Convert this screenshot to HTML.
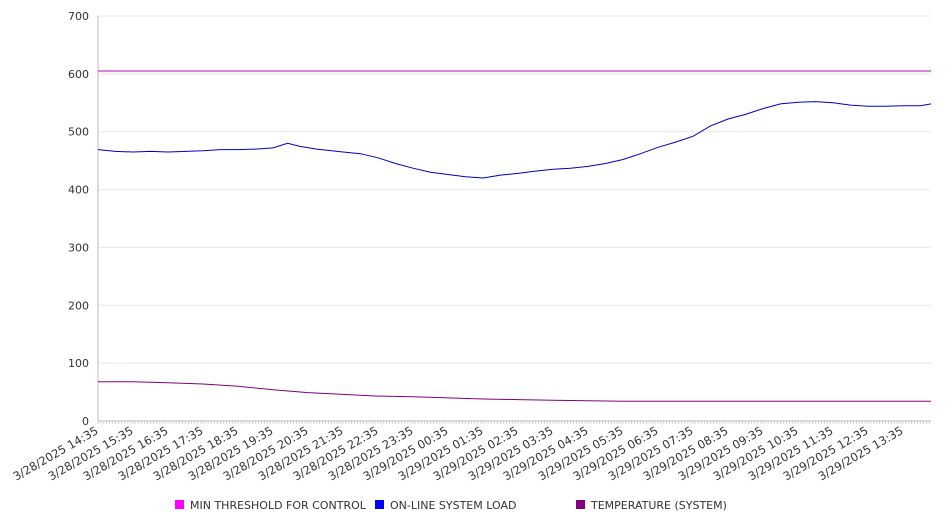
<!DOCTYPE html>
<html><head><meta charset="utf-8"><style>
body{margin:0;background:#fff;}
svg{display:block;font-family:"DejaVu Sans","Liberation Sans",sans-serif;}
</style></head><body>
<svg id="chart" width="946" height="526">
<g id="grid"></g>
<g id="yaxis"></g>
<g id="xaxis"></g>
<g id="series"></g>
<g id="legend"></g>
</svg>
<script>
const yTicks=[0,100,200,300,400,500,600,700];
const xTickLabels=["3/28/2025 14:35","3/28/2025 15:35","3/28/2025 16:35","3/28/2025 17:35","3/28/2025 18:35","3/28/2025 19:35","3/28/2025 20:35","3/28/2025 21:35","3/28/2025 22:35","3/28/2025 23:35","3/29/2025 00:35","3/29/2025 01:35","3/29/2025 02:35","3/29/2025 03:35","3/29/2025 04:35","3/29/2025 05:35","3/29/2025 06:35","3/29/2025 07:35","3/29/2025 08:35","3/29/2025 09:35","3/29/2025 10:35","3/29/2025 11:35","3/29/2025 12:35","3/29/2025 13:35"];
// minutes since 3/28 14:35
const loadTimes=[0,30,60,90,120,150,180,210,240,270,300,325,345,375,420,450,480,510,540,570,600,630,660,690,720,750,780,810,840,870,900,930,960,990,1020,1050,1080,1110,1140,1170,1200,1230,1260,1290,1320,1350,1380,1410,1428];
const loadValues=[469,466,465,466,465,466,467,469,469,470,472,480,475,470,465,462,455,445,437,430,426,422,420,425,428,432,435,437,440,445,452,462,473,482,492,510,522,530,540,548,551,552,550,546,544,544,545,545,548];
const tempTimes=[0,60,120,180,240,300,360,420,480,540,600,660,720,780,840,900,1000,1100,1200,1300,1428];
const tempValues=[68,68,66,64,60,54,49,46,43,42,40,38,37,36,35,34,34,34,34,34,34];
const thresholdTimes=[0,1428];
const thresholdValues=[605,605];
const X0=98,X1=931,Y0=421,Y1=16,TMAX=1428,VMAX=700;
const x=t=>X0+t/TMAX*(X1-X0);
const y=v=>Y0-v/VMAX*(Y0-Y1);
const NS="http://www.w3.org/2000/svg";
function mk(tag,parent,attrs){const e=document.createElementNS(NS,tag);for(const k in attrs)e.setAttribute(k,attrs[k]);parent.appendChild(e);return e;}
const grid=document.getElementById('grid'),ya=document.getElementById('yaxis'),xa=document.getElementById('xaxis'),se=document.getElementById('series'),lg=document.getElementById('legend');
yTicks.forEach(v=>{
 if(v>0){const g=mk('line',grid,{x1:X0,x2:X1,y1:y(v),y2:y(v),stroke:'#e8e8e8'});
 
 }
 const t=mk('text',ya,{x:89,y:y(v)+4,'text-anchor':'end','font-size':11,fill:'#333'});t.textContent=v;
 
 
});
const ax=mk('line',ya,{x1:X0,x2:X0,y1:Y1,y2:Y0,stroke:'#bbb'});


const bx=mk('line',xa,{x1:X0,x2:X1,y1:Y0,y2:Y0,stroke:'#bbb'});


for(let m=0;m<=TMAX;m+=5){const tk=mk('line',xa,{x1:x(m),x2:x(m),y1:Y0,y2:Y0+3,stroke:'#bbb','stroke-width':0.6});
 
 }
xTickLabels.forEach((s,i)=>{const px=x(i*60)+1;
 const t=mk('text',xa,{x:px,y:Y0+12,'text-anchor':'end','font-size':11.5,fill:'#333',transform:`rotate(-30 ${px} ${Y0+12})`});t.textContent=s;
 
 });
function line(ts,vs,color,name){const d=ts.map((t,i)=>(i?'L':'M')+x(t).toFixed(1)+','+y(vs[i]).toFixed(1)).join('');
 const p=mk('path',se,{d:d,fill:'none',stroke:color,'stroke-width':1});
 
 }
line(thresholdTimes,thresholdValues,'#c000c0','threshold-line');
line(loadTimes,loadValues,'#0000cc','load-line');
line(tempTimes,tempValues,'#800080','temperature-line');
const legendItems=[["MIN THRESHOLD FOR CONTROL","#ff00ff",175],["ON-LINE SYSTEM LOAD","#0000ff",375],["TEMPERATURE (SYSTEM)","#800080",576]];
legendItems.forEach(([s,c,lx])=>{const g=mk('g',lg,{});
 
 
 mk('rect',g,{x:lx,y:500,width:9,height:9,fill:c});
 const t=mk('text',g,{x:lx+15,y:509,'font-size':11,fill:'#333'});t.textContent=s;});
</script>
</body></html>
